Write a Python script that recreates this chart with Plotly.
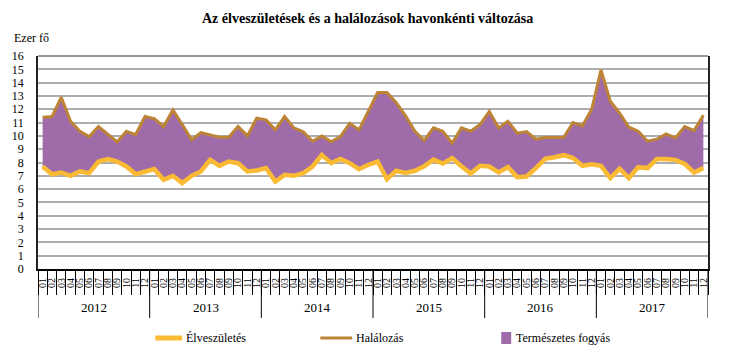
import plotly.graph_objects as go

years = ["2012", "2013", "2014", "2015", "2016", "2017"]
months = ["01", "02", "03", "04", "05", "06", "07", "08", "09", "10", "11", "12"]

births = [
    7.7, 7.12, 7.25, 7.0, 7.33, 7.2, 8.07, 8.25, 8.07, 7.7, 7.12, 7.35,
    7.5, 6.7, 7.0, 6.45, 7.0, 7.33, 8.2, 7.75, 8.07, 7.95, 7.33, 7.4,
    7.58, 6.57, 7.07, 7.0, 7.2, 7.7, 8.57, 7.95, 8.27, 7.95, 7.5, 7.83,
    8.07, 6.75, 7.38, 7.22, 7.38, 7.72, 8.22, 7.92, 8.33, 7.72, 7.17, 7.75,
    7.7, 7.25, 7.65, 6.9, 6.95, 7.58, 8.27, 8.4, 8.55, 8.33, 7.75, 7.87,
    7.75, 6.83, 7.53, 6.83, 7.65, 7.58, 8.27, 8.27, 8.2, 7.9, 7.25, 7.58,
]
deaths = [
    11.4, 11.45, 12.9, 11.1, 10.35, 9.95, 10.7, 10.1, 9.55, 10.35, 10.1, 11.45,
    11.3, 10.7, 11.95, 10.85, 9.7, 10.25, 10.1, 9.9, 9.9, 10.7, 10.0, 11.33,
    11.2, 10.45, 11.45, 10.6, 10.3, 9.6, 10.0, 9.55, 9.95, 10.95, 10.45, 11.9,
    13.25, 13.25, 12.5, 11.5, 10.35, 9.65, 10.6, 10.35, 9.45, 10.6, 10.35, 10.85,
    11.83, 10.6, 11.1, 10.2, 10.33, 9.75, 9.88, 9.88, 9.9, 11.0, 10.75, 12.0,
    14.95, 12.6, 11.7, 10.65, 10.35, 9.6, 9.75, 10.15, 9.85, 10.7, 10.4, 11.55,
]
series_names = ["Élveszületés", "Halálozás", "Természetes fogyás"]

C_BIRTH = "#FBBA33"
C_DEATH = "#BE8436"
C_FILL = "#9F6CA9"
SERIF = "Liberation Serif"

n = len(births)
xs = list(range(n))
tick_text = [months[i % 12] for i in xs]

W, H = 729, 354
L, R, T, B = 34, 21, 56, 85
PW, PH = W - L - R, H - T - B


def px(xp):
    return (xp - L) / PW


def py(yp):
    return (H - B - yp) / PH


fig = go.Figure()
fig.add_trace(go.Scatter(x=xs, y=births, mode="lines", line=dict(width=0, color=C_BIRTH),
                         showlegend=False, hoverinfo="skip"))
fig.add_trace(go.Scatter(x=xs, y=deaths, mode="lines", line=dict(width=0, color=C_DEATH),
                         fill="tonexty", fillcolor=C_FILL, showlegend=False, hoverinfo="skip"))
fig.add_trace(go.Scatter(x=xs, y=deaths, mode="lines", name=series_names[1],
                         line=dict(width=3, color=C_DEATH), showlegend=False))
fig.add_trace(go.Scatter(x=xs, y=births, mode="lines", name=series_names[0],
                         line=dict(width=4.5, color=C_BIRTH), showlegend=False))

shapes = []
annotations = []
# top border
shapes.append(dict(type="line", xref="paper", yref="paper", x0=0, x1=1, y0=1, y1=1,
                   line=dict(color="#333333", width=1)))
# year separators
for k in range(len(years) + 1):
    xv = -0.5 + 12 * k
    shapes.append(dict(type="line", xref="x", yref="paper", x0=xv, x1=xv, y0=0, y1=py(318),
                       line=dict(color="#000000", width=1)))
for k, yr in enumerate(years):
    annotations.append(dict(x=5.5 + 12 * k, xref="x", y=py(307), yref="paper", text=yr,
                            showarrow=False, font=dict(family=SERIF, size=13, color="#000"),
                            xanchor="center", yanchor="middle"))

# legend
shapes.append(dict(type="line", xref="paper", yref="paper", x0=px(152), x1=px(179),
                   y0=py(338), y1=py(338), line=dict(color=C_BIRTH, width=5)))
shapes.append(dict(type="line", xref="paper", yref="paper", x0=px(318), x1=px(350),
                   y0=py(338), y1=py(338), line=dict(color=C_DEATH, width=3)))
shapes.append(dict(type="rect", xref="paper", yref="paper", x0=px(500), x1=px(510),
                   y0=py(344), y1=py(332), line=dict(width=0), fillcolor=C_FILL))
for xt, txt in zip([181, 352, 513], series_names):
    annotations.append(dict(x=px(xt), y=py(338), xref="paper", yref="paper", text=txt,
                            showarrow=False, xanchor="left", yanchor="middle",
                            font=dict(family=SERIF, size=12, color="#000")))

# title and unit
annotations.append(dict(x=px(365), y=py(18), xref="paper", yref="paper",
                        text="<b>Az élveszületések és a halálozások havonkénti változása</b>",
                        showarrow=False, xanchor="center", yanchor="middle",
                        font=dict(family=SERIF, size=14, color="#000")))
annotations.append(dict(x=px(8), y=py(38), xref="paper", yref="paper", text="Ezer fő",
                        showarrow=False, xanchor="left", yanchor="middle",
                        font=dict(family=SERIF, size=12, color="#000")))

fig.update_layout(
    width=W, height=H,
    margin=dict(l=L, r=R, t=T, b=B),
    paper_bgcolor="white", plot_bgcolor="white",
    shapes=shapes, annotations=annotations,
    showlegend=False,
    xaxis=dict(
        range=[-0.5, n - 0.5], tickmode="array", tickvals=xs, ticktext=tick_text,
        tickangle=-90, ticks="", showgrid=False, zeroline=False,
        showline=True, linecolor="#000", linewidth=2,
        tickfont=dict(family=SERIF, size=10, color="#000"),
        ticklabelstandoff=3,
        minor=dict(tick0=-0.5, dtick=1, ticks="outside", ticklen=24, tickcolor="#000",
                   tickwidth=1, showgrid=False),
    ),
    yaxis=dict(
        range=[0, 16], dtick=1, showgrid=True, gridcolor="#ADADAD", gridwidth=1.5,
        zeroline=False, showline=True, linecolor="#222", linewidth=1.5, mirror=True,
        ticks="", tickfont=dict(family=SERIF, size=12, color="#000"),
        ticklabelstandoff=10,
    ),
)

fig.write_html("out.html")
